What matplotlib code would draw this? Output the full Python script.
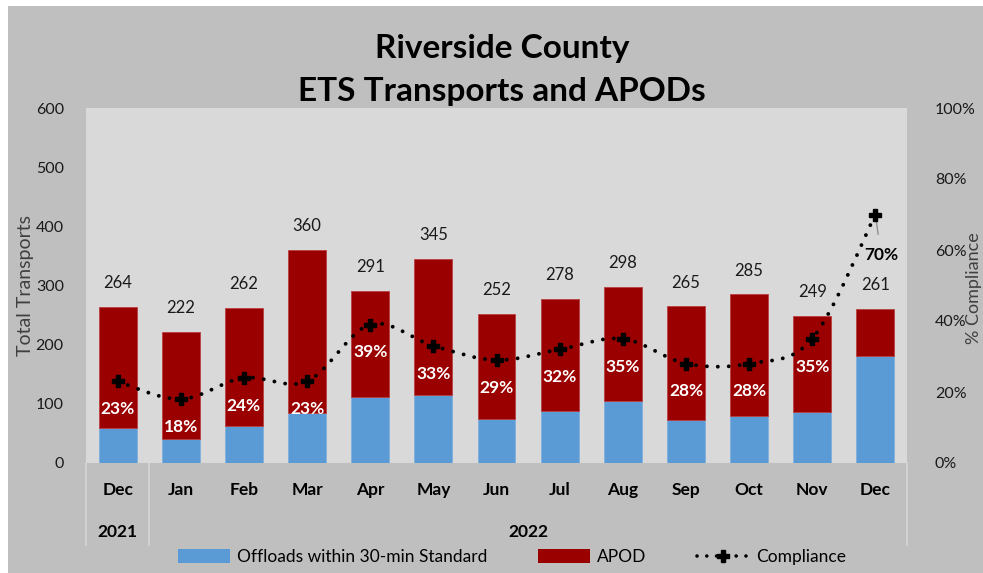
import matplotlib
matplotlib.use("Agg")
from matplotlib import pyplot as plt
from matplotlib.path import Path
from matplotlib.patches import PathPatch, Rectangle, Patch
from matplotlib.lines import Line2D
import numpy as np

plt.rcParams['font.family'] = ['Lato', 'DejaVu Sans']

# 데이터
months = ["Dec", "Jan", "Feb", "Mar", "Apr", "May", "Jun",
          "Jul", "Aug", "Sep", "Oct", "Nov", "Dec"]
years = ["2021", "2022"]
totals = [264, 222, 262, 360, 291, 345, 252, 278, 298, 265, 285, 249, 261]
offloads = [60, 40, 62, 84, 112, 115, 74, 88, 104, 73, 80, 87, 181]
compliance = [23, 18, 24, 23, 39, 33, 29, 32, 35, 28, 28, 35, 70]
apod = [t - o for t, o in zip(totals, offloads)]

BLUE = "#5b9bd5"
RED = "#9a0000"
W, H = 983, 573

fig = plt.figure(figsize=(W / 100, H / 100), dpi=100)
fig.patch.set_facecolor("white")
fig.patches.append(Rectangle((8 / W, 0), 1, 1 - 6 / H, transform=fig.transFigure,
                             facecolor="#bfbfbf", edgecolor="none", zorder=-10))

ax = fig.add_axes([86 / W, 110 / H, 821 / W, 355 / H])
ax.set_facecolor("#d9d9d9")
x = np.arange(len(months))

ax.bar(x, offloads, width=0.6, color=BLUE, edgecolor="#7fb0dd", linewidth=0.6, zorder=2)
ax.bar(x, apod, width=0.6, bottom=offloads, color=RED, edgecolor="#b84040", linewidth=0.6, zorder=2)

ax.set_xlim(-0.5, len(months) - 0.5)
ax.set_ylim(0, 600)
ax.set_yticks(range(0, 601, 100))
for s in ax.spines.values():
    s.set_visible(False)
ax.tick_params(axis="y", length=0, pad=16, labelsize=11.5, labelcolor="#1a1a1a")
ax.set_xticks(x, months)
ax.tick_params(axis="x", length=0, pad=14, labelsize=12.5)
for lab in ax.get_xticklabels():
    lab.set_fontweight("bold")

# 합계 라벨
for i, t in enumerate(totals):
    ax.annotate(str(t), (i, t), xytext=(0, 17), textcoords="offset points",
                ha="center", va="center", fontsize=12, color="#1a1a1a")

# 카테고리 구분선 / 연도
tr = ax.get_xaxis_transform()
for xv in [-0.5, 0.5, len(months) - 0.5]:
    ax.plot([xv, xv], [0, -82 / 355], transform=tr, clip_on=False,
            color="#d6d6d6", linewidth=1.2)
ax.text(0, -69 / 355, years[0], transform=tr, ha="center", va="center",
        fontsize=12.5, fontweight="bold")
ax.text(6.5, -69 / 355, years[1], transform=tr, ha="center", va="center",
        fontsize=12.5, fontweight="bold")

ax.set_ylabel("Total Transports", fontsize=14, color="#404040")
ax.yaxis.set_label_coords(-52 / 821, 0.5)

# 오른쪽 축 - compliance
ax2 = ax.twinx()
ax2.set_ylim(0, 1)
ax2.set_yticks(np.arange(0, 1.01, 0.2))
ax2.set_yticklabels([f"{int(v * 100)}%" for v in np.arange(0, 1.01, 0.2)])
ax2.tick_params(axis="y", length=0, pad=20, labelsize=11.5, labelcolor="#1a1a1a")
for s in ax2.spines.values():
    s.set_visible(False)
fig.text(966 / W, 1 - 288 / H, "% Compliance", rotation=90, ha="left", va="center",
         fontsize=13, color="#404040")

# 부드러운 점선 (Catmull-Rom -> Bezier)
yv = np.array(compliance) / 100.0
pts = np.column_stack([x, yv])
verts = [pts[0]]
codes = [Path.MOVETO]
n = len(pts)
for i in range(n - 1):
    p0 = pts[i - 1] if i > 0 else pts[i]
    p1 = pts[i]
    p2 = pts[i + 1]
    p3 = pts[i + 2] if i + 2 < n else pts[i + 1]
    c1 = p1 + (p2 - p0) / 6.0
    c2 = p2 - (p3 - p1) / 6.0
    verts += [c1, c2, p2]
    codes += [Path.CURVE4] * 3
curve = PathPatch(Path(verts, codes), facecolor="none", edgecolor="black",
                  linewidth=2.8, linestyle=(0, (0.01, 2.8)), capstyle="round", zorder=3)
ax2.add_patch(curve)
ax2.plot(x, yv, linestyle="none", marker="P", markersize=9, color="black", zorder=4)

for i, p in enumerate(compliance[:-1]):
    ax2.annotate(f"{p}%", (i, p / 100), xytext=(0, -20), textcoords="offset points",
                 ha="center", va="center", fontsize=12.5, fontweight="bold", color="white", zorder=5)
ax2.annotate(f"{compliance[-1]}%", (x[-1], compliance[-1] / 100), xytext=(4, -29),
             textcoords="offset points", ha="center", va="center", fontsize=12.5,
             fontweight="bold", color="black",
             arrowprops=dict(arrowstyle="-", color="#909090", lw=1, shrinkA=7, shrinkB=3))

# 제목
fig.text(502 / W, 1 - 70 / H, "Riverside County\nETS Transports and APODs", ha="center",
         va="center", fontsize=24, fontweight="bold", linespacing=1.55)

# 범례
handles = [Patch(facecolor=BLUE, edgecolor="none"),
           Patch(facecolor=RED, edgecolor="none"),
           Line2D([], [], color="black", linewidth=2.6, linestyle=(0, (0.01, 2.7)),
                  dash_capstyle="round", marker="P", markersize=9)]
fig.legend(handles, ["Offloads within 30-min Standard", "APOD", "Compliance"],
           loc="center", bbox_to_anchor=(512 / W, 1 - 557 / H), ncol=3, frameon=False,
           fontsize=12.5, handlelength=3.0, handleheight=0.8, columnspacing=2.9,
           handletextpad=0.4)

plt.savefig("out.png", dpi=100)
